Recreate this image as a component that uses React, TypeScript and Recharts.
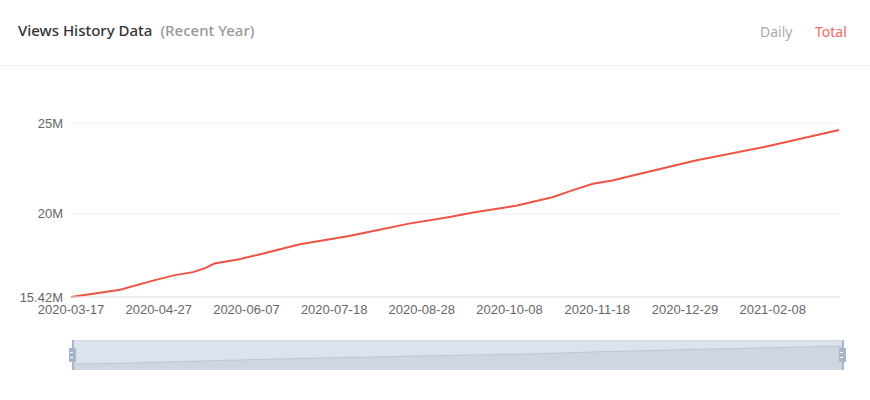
import { LineChart, Line, XAxis, YAxis, CartesianGrid, AreaChart, Area } from "recharts";

// cumulative views (millions)
const dates = [
  "2020-03-17", "2020-04-09", "2020-04-23", "2020-05-04", "2020-05-13", "2020-05-19",
  "2020-05-23", "2020-06-03", "2020-06-13", "2020-07-02", "2020-07-25", "2020-08-07",
  "2020-08-22", "2020-09-10", "2020-09-21", "2020-10-11", "2020-10-28", "2020-11-07",
  "2020-11-16", "2020-11-25", "2020-12-08", "2021-01-03", "2021-02-04", "2021-03-11",
];
const views = [
  15.42, 15.82, 16.28, 16.61, 16.79, 17.02,
  17.26, 17.48, 17.76, 18.32, 18.78, 19.09,
  19.46, 19.83, 20.07, 20.44, 20.91, 21.32,
  21.65, 21.83, 22.21, 22.94, 23.68, 24.61,
];
const xTickDates = [
  "2020-03-17", "2020-04-27", "2020-06-07", "2020-07-18", "2020-08-28",
  "2020-10-08", "2020-11-18", "2020-12-29", "2021-02-08",
];
const yTicks = [15.42, 20, 25];

const toTime = (d: string) => Date.parse(d);
const data = dates.map((d, i) => ({ t: toTime(d), date: d, views: views[i] }));
const xTicks = xTickDates.map(toTime);
const xDomain = [data[0].t, data[data.length - 1].t];
const fmtDate = (t: number) => new Date(t).toISOString().slice(0, 10);

const axisFont = { fontSize: 13, fill: "#666", fontFamily: "Liberation Sans, Arial, sans-serif" };

function Handle({ left }: { left: number }) {
  return (
    <>
      <div style={{ position: "absolute", left: left, top: 340, width: 1.5, height: 30, background: "#a7b6cb" }} />
      <div style={{ position: "absolute", left: left - 3, top: 348, width: 7, height: 14, background: "#a7b6cb" }}>
        <div style={{ position: "absolute", left: 1, top: 4, width: 3, height: 1, background: "#fff" }} />
        <div style={{ position: "absolute", left: 1, top: 9, width: 3, height: 1, background: "#fff" }} />
      </div>
    </>
  );
}

export default function App() {
  return (
    <div style={{ position: "absolute", left: 0, top: 0, width: 870, height: 400, background: "#fff", fontFamily: "Noto Sans, sans-serif" }}>
      <div style={{ position: "absolute", left: 18, top: 20, fontSize: 15, color: "#333", fontWeight: 500, whiteSpace: "nowrap" }}>
        Views History Data
        <span style={{ color: "#999", marginLeft: 8 }}>(Recent Year)</span>
      </div>
      <div style={{ position: "absolute", left: 760, top: 22, fontSize: 14, color: "#aaa" }}>Daily</div>
      <div style={{ position: "absolute", left: 815, top: 22, fontSize: 14, color: "#f26a5c" }}>Total</div>
      <div style={{ position: "absolute", left: 0, top: 65, width: 870, height: 1, background: "#ececec" }} />
      <div style={{ position: "absolute", left: 0, top: 0 }}>
        <LineChart width={870} height={400} data={data} margin={{ top: 123, right: 31, left: 0, bottom: 73 }}>
          <CartesianGrid horizontal vertical={false} stroke="#eeeeee" />
          <XAxis
            dataKey="t"
            type="number"
            domain={xDomain}
            ticks={xTicks}
            tickFormatter={fmtDate}
            tickLine={false}
            axisLine={{ stroke: "#e4e4e4" }}
            tick={axisFont}
            tickMargin={2}
            interval={0}
          />
          <YAxis
            width={71}
            domain={[15.42, 25]}
            ticks={yTicks}
            tickFormatter={(v: number) => `${v}M`}
            tickLine={false}
            axisLine={false}
            tick={axisFont}
          />
          <Line
            dataKey="views"
            stroke="#ef5343"
            strokeWidth={2}
            dot={false}
            isAnimationActive={false}
          />
        </LineChart>
      </div>
      {/* data-zoom strip */}
      <div style={{ position: "absolute", left: 72, top: 340, width: 770, height: 30, background: "#dce3ec", borderTop: "1px solid #d3d9e2", boxSizing: "border-box" }} />
      <div style={{ position: "absolute", left: 72, top: 340 }}>
        <AreaChart width={770} height={30} data={data} margin={{ top: 0, right: 0, left: 0, bottom: 0 }}>
          <XAxis hide dataKey="t" type="number" domain={xDomain} />
          <YAxis hide domain={[12.4, 27.7]} />
          <Area dataKey="views" stroke="#bcc5d2" fill="#cfd6e0" fillOpacity={1} dot={false} isAnimationActive={false} />
        </AreaChart>
      </div>
      <Handle left={72} />
      <Handle left={842} />
    </div>
  );
}
